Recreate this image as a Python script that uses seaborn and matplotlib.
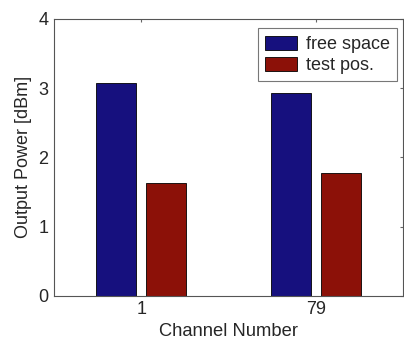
import pandas as pd
import seaborn as sns
import matplotlib.pyplot as plt

# Data
channels = ["1", "79"]
free_space = [3.08, 2.93]
test_pos = [1.63, 1.77]
series_names = ["free space", "test pos."]

df = pd.DataFrame({
    "channel": channels * 2,
    "power": free_space + test_pos,
    "setup": [series_names[0]] * 2 + [series_names[1]] * 2,
})

sns.set_style("white")
plt.rcParams['font.family'] = ['Liberation Sans', 'DejaVu Sans']

fig = plt.figure(figsize=(4.04, 3.44), dpi=100)
ax = fig.add_axes([0.134, 0.14, 0.864, 0.805])

sns.barplot(data=df, x="channel", y="power", hue="setup", order=channels,
            hue_order=series_names, palette=["#16107e", "#8c1108"],
            width=0.574, gap=0.2, edgecolor="black", linewidth=0.6,
            saturation=1, ax=ax)

ax.set_xlim(-0.5, 1.5)
ax.set_ylim(0, 4)
ax.set_yticks([0, 1, 2, 3, 4])
ax.set_xlabel("Channel Number", fontsize=13.2, labelpad=3)
ax.set_ylabel("Output Power [dBm]", fontsize=13, labelpad=5)
ax.tick_params(direction="in", length=2.5, labelsize=13, top=True, right=True,
               color="#666666")
ax.tick_params(axis="x", pad=4)
ax.tick_params(axis="y", pad=4)
for s in ax.spines.values():
    s.set_color("#555555")
    s.set_linewidth(0.8)

leg = ax.legend(loc="upper right", fontsize=13, frameon=True, fancybox=False,
                edgecolor="#555555", handlelength=1.75, handleheight=0.85,
                borderpad=0.4, labelspacing=0.2, handletextpad=0.5,
                borderaxespad=0, bbox_to_anchor=(0.982, 0.966))
leg.get_frame().set_linewidth(0.8)

fig.savefig("out.png", dpi=100)
